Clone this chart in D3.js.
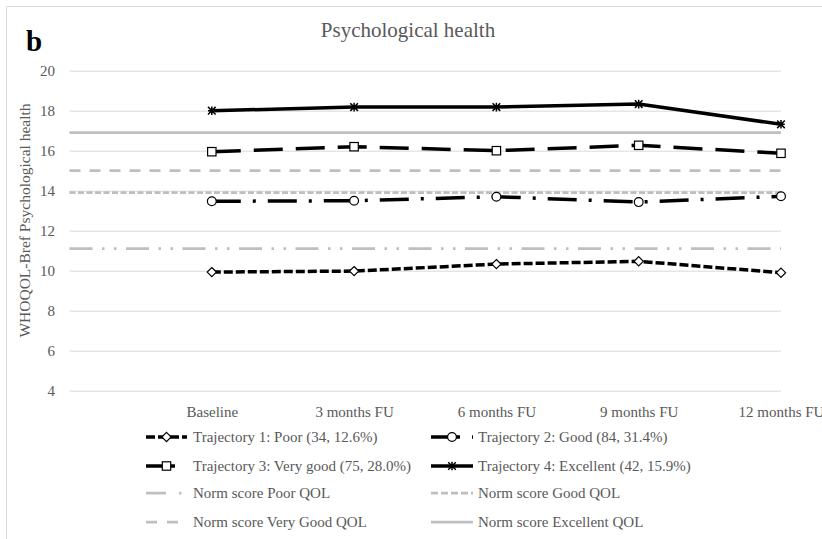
<!DOCTYPE html>
<html>
<head>
<meta charset="utf-8">
<script src="https://cdn.jsdelivr.net/npm/d3@7"></script>
<style>
  html, body { margin: 0; padding: 0; background: #fff; }
  svg { display: block; font-family: "Liberation Serif", "Times New Roman", serif; }
</style>
</head>
<body>
<svg id="chart" width="822" height="539"></svg>
<script>
// ---- Data ----
const categories = ["Baseline", "3 months FU", "6 months FU", "9 months FU", "12 months FU"];
const traj1Poor = [9.93, 9.98, 10.33, 10.47, 9.90];
const traj2Good = [13.47, 13.50, 13.70, 13.43, 13.72];
const traj3VeryGood = [15.95, 16.20, 16.00, 16.27, 15.87];
const traj4Excellent = [18.00, 18.18, 18.18, 18.33, 17.32];
const normPoor = 11.1;
const normGood = 13.9;
const normVeryGood = 15.0;
const normExcellent = 16.9;
const yTicks = [4, 6, 8, 10, 12, 14, 16, 18, 20];
const trajLabels = [
  "Trajectory 1: Poor (34, 12.6%)",
  "Trajectory 2: Good (84, 31.4%)",
  "Trajectory 3: Very good (75, 28.0%)",
  "Trajectory 4: Excellent (42, 15.9%)"
];
const normLabels = [
  "Norm score Poor QOL",
  "Norm score Good QOL",
  "Norm score Very Good QOL",
  "Norm score Excellent QOL"
];

// ---- Layout ----
const svg = d3.select("#chart");
const plotLeft = 69.5, plotRight = 781, plotTop = 70.7, plotBottom = 390.7;
const textColor = "#595959";
const gridColor = "#d9d9d9";
const normColor = "#bfbfbf";

// chart border (cropped at right/bottom)
svg.append("path")
  .attr("d", "M6.5,600 V6.5 H900")
  .attr("fill", "none").attr("stroke", gridColor).attr("stroke-width", 1);

const step = (plotRight - plotLeft) / categories.length;
const x = d3.scalePoint().domain(categories).range([plotLeft + step, plotRight]);
const y = d3.scaleLinear().domain([4, 20]).range([plotBottom, plotTop]);

// y axis with gridlines
const yAxis = svg.append("g")
  .attr("transform", `translate(${plotLeft},0)`)
  .call(d3.axisLeft(y).tickValues(yTicks).tickSize(-(plotRight - plotLeft)).tickPadding(14.5));
yAxis.select(".domain").remove();
yAxis.selectAll(".tick line").attr("stroke", gridColor).attr("stroke-width", 1);
yAxis.selectAll(".tick text").attr("fill", textColor).attr("font-size", 15)
  .attr("font-family", "Liberation Serif, serif");

// x axis labels
const xAxis = svg.append("g")
  .attr("transform", `translate(0,${plotBottom})`)
  .call(d3.axisBottom(x).tickSize(0).tickPadding(15.5));
xAxis.select(".domain").remove();
xAxis.selectAll(".tick text").attr("fill", textColor).attr("font-size", 15)
  .attr("font-family", "Liberation Serif, serif");

// Title and panel label
svg.append("text").attr("x", 408).attr("y", 37).attr("text-anchor", "middle")
  .attr("font-size", 21).attr("fill", textColor).text("Psychological health");
svg.append("text").attr("x", 26).attr("y", 51).attr("font-size", 29)
  .attr("font-weight", "bold").attr("fill", "#000").text("b");

// Y axis title
svg.append("text")
  .attr("transform", `translate(30,220.5) rotate(-90)`)
  .attr("text-anchor", "middle").attr("font-size", 15.5).attr("fill", textColor)
  .text("WHOQOL-Bref Psychological health");

// ---- Norm lines ----
const normDefs = [
  { v: normPoor, dash: "23,9.5,2.5,9.5,2.5,9.5" },
  { v: normGood, dash: "6,2.5" },
  { v: normVeryGood, dash: "11,9" },
  { v: normExcellent, dash: null }
];
normDefs.forEach(d => {
  svg.append("line")
    .attr("x1", plotLeft).attr("x2", plotRight)
    .attr("y1", y(d.v)).attr("y2", y(d.v))
    .attr("stroke", normColor).attr("stroke-width", 2.75)
    .attr("stroke-dasharray", d.dash);
});

// ---- Marker drawing ----
function drawMarker(g, type, cx, cy) {
  if (type === "diamond") {
    const s = 4.6;
    g.append("path").attr("d", `M${cx},${cy - s} L${cx + s},${cy} L${cx},${cy + s} L${cx - s},${cy} Z`)
      .attr("fill", "#fff").attr("stroke", "#000").attr("stroke-width", 1.2);
  } else if (type === "circle") {
    g.append("circle").attr("cx", cx).attr("cy", cy).attr("r", 4.4)
      .attr("fill", "#fff").attr("stroke", "#000").attr("stroke-width", 1.2);
  } else if (type === "square") {
    const s = 4.2;
    g.append("rect").attr("x", cx - s).attr("y", cy - s).attr("width", 2 * s).attr("height", 2 * s)
      .attr("fill", "#fff").attr("stroke", "#000").attr("stroke-width", 1.2);
  } else if (type === "star") {
    const s = 3.8;
    g.append("path")
      .attr("d", `M${cx - s},${cy - s} L${cx + s},${cy + s} M${cx - s},${cy + s} L${cx + s},${cy - s} M${cx},${cy - s - 0.5} L${cx},${cy + s + 0.5} M${cx - s},${cy} L${cx + s},${cy}`)
      .attr("stroke", "#000").attr("stroke-width", 1.5).attr("fill", "none");
  }
}

// ---- Trajectory lines ----
const trajDefs = [
  { values: traj1Poor, dash: "9,3", marker: "diamond" },
  { values: traj2Good, dash: "29,12,3,12", marker: "circle" },
  { values: traj3VeryGood, dash: "29,13", marker: "square" },
  { values: traj4Excellent, dash: null, marker: "star" }
];
const line = d3.line().x(d => x(d.c)).y(d => y(d.v));
trajDefs.forEach(t => {
  const pts = categories.map((c, i) => ({ c, v: t.values[i] }));
  const g = svg.append("g");
  g.append("path").attr("d", line(pts)).attr("fill", "none")
    .attr("stroke", "#000").attr("stroke-width", 3.5)
    .attr("stroke-dasharray", t.dash);
  pts.forEach(p => drawMarker(g, t.marker, x(p.c), y(p.v)));
});

// ---- Legend ----
const legendRows = [437, 466, 493, 522];
const col = [{ x1: 146, x2: 187, tx: 193 }, { x1: 431, x2: 473, tx: 478 }];
const legendItems = [
  { label: trajLabels[0], r: 0, c: 0, color: "#000", w: 3.5, dash: "9,3", marker: "diamond" },
  { label: trajLabels[1], r: 0, c: 1, color: "#000", w: 3.5, dash: "29,12,3,12", marker: "circle" },
  { label: trajLabels[2], r: 1, c: 0, color: "#000", w: 3.5, dash: "29,13", marker: "square" },
  { label: trajLabels[3], r: 1, c: 1, color: "#000", w: 3.5, dash: null, marker: "star" },
  { label: normLabels[0], r: 2, c: 0, color: normColor, w: 2.75, dash: "20,13,2.5,20" },
  { label: normLabels[1], r: 2, c: 1, color: normColor, w: 2.75, dash: "7,3" },
  { label: normLabels[2], r: 3, c: 0, color: normColor, w: 2.75, dash: "11,10" },
  { label: normLabels[3], r: 3, c: 1, color: normColor, w: 2.75, dash: null }
];
const lg = svg.append("g");
legendItems.forEach(it => {
  const cc = col[it.c], cy = legendRows[it.r];
  lg.append("line").attr("x1", cc.x1).attr("x2", cc.x2).attr("y1", cy).attr("y2", cy)
    .attr("stroke", it.color).attr("stroke-width", it.w).attr("stroke-dasharray", it.dash);
  if (it.marker) drawMarker(lg, it.marker, (cc.x1 + cc.x2) / 2, cy);
  lg.append("text").attr("x", cc.tx).attr("y", cy + 5).attr("font-size", 15)
    .attr("fill", textColor).text(it.label);
});
</script>
</body>
</html>
